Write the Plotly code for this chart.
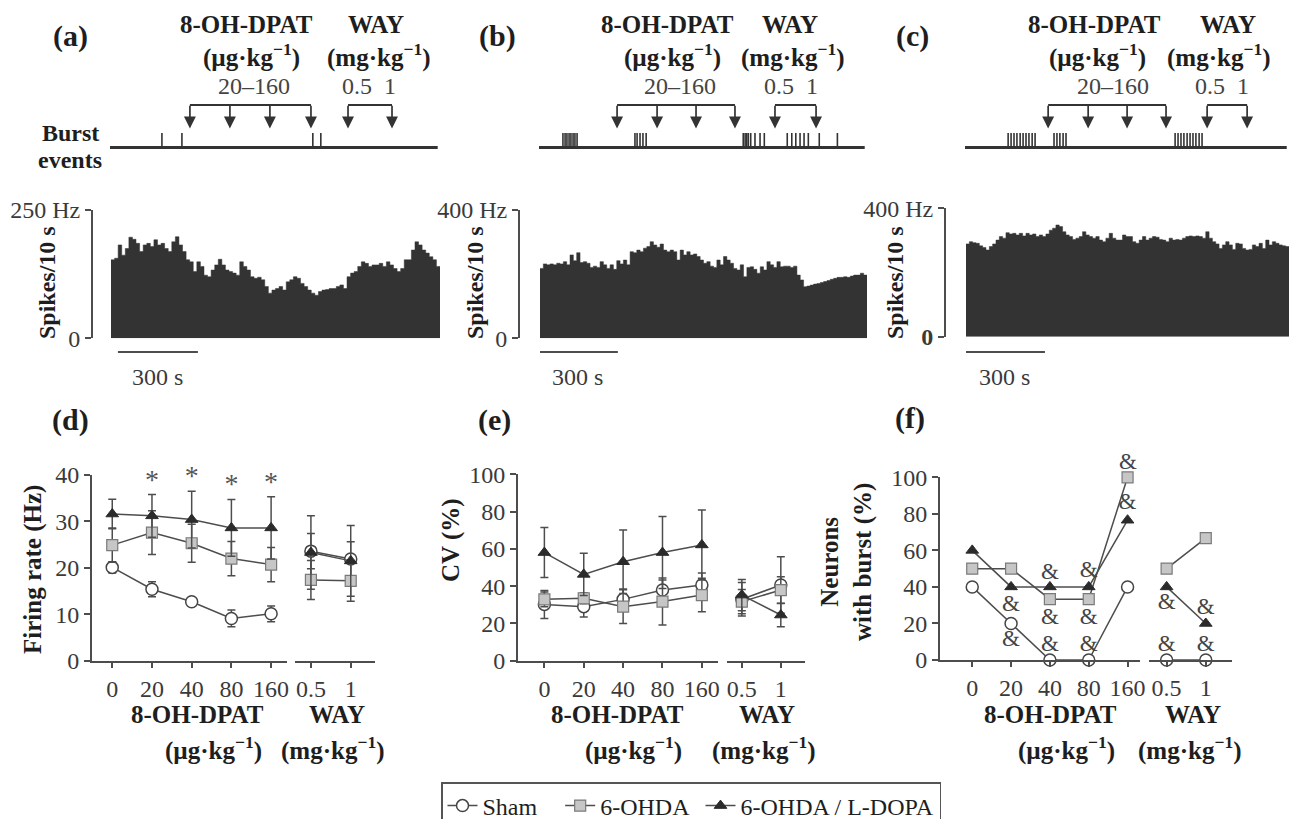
import plotly.graph_objects as go

W, H = 1291, 819
FONT = "Liberation Serif"
TXT = "#1e1e1e"
TICK = "#3a3a3a"
LINE = "#4d4d4d"
BAR = "#333333"

# ---------------- data ----------------
# spike-rate histograms (spikes / bin), panels a, b, c
rate_a = [153, 156, 182, 162, 175, 197, 193, 185, 169, 182, 185, 179, 192, 182, 185, 175, 169, 188, 198, 182,
          169, 153, 149, 130, 149, 140, 123, 120, 133, 143, 154, 143, 133, 130, 127, 123, 149, 140, 133, 120,
          117, 119, 114, 101, 88, 94, 97, 101, 94, 110, 114, 120, 117, 107, 101, 94, 88, 84, 91, 94,
          95, 97, 97, 101, 104, 97, 120, 127, 130, 140, 149, 146, 140, 143, 143, 146, 140, 149, 143, 136,
          130, 136, 153, 153, 172, 188, 182, 172, 166, 159, 153, 140]
rate_b = [218, 232, 229, 232, 229, 234, 232, 239, 229, 260, 242, 267, 236, 239, 234, 221, 225, 221, 239, 229,
          218, 229, 215, 242, 232, 244, 229, 270, 267, 275, 270, 281, 286, 301, 291, 284, 294, 275, 270, 275,
          270, 244, 275, 260, 270, 260, 263, 255, 244, 234, 239, 225, 221, 244, 229, 255, 244, 234, 218, 213,
          229, 192, 221, 223, 215, 203, 223, 213, 239, 229, 221, 239, 223, 225, 225, 221, 225, 197, 182, 161,
          163, 166, 169, 171, 174, 177, 180, 184, 187, 190, 190, 192, 190, 194, 197, 197, 203, 197]
rate_c = [289, 296, 293, 291, 283, 278, 270, 281, 289, 301, 312, 307, 324, 320, 322, 317, 322, 314, 322, 317,
          320, 312, 317, 312, 320, 332, 338, 348, 343, 327, 317, 312, 303, 307, 312, 327, 317, 312, 307, 312,
          301, 296, 307, 322, 307, 301, 301, 317, 312, 312, 296, 291, 301, 312, 301, 307, 312, 310, 303, 301,
          296, 307, 301, 303, 301, 307, 312, 314, 312, 314, 312, 307, 327, 307, 296, 289, 275, 286, 296, 286,
          272, 291, 289, 275, 270, 272, 286, 281, 291, 275, 301, 286, 296, 291, 286, 283, 281]
hist_top = [250, 400, 400]
rec_len_s = [1234, 1226, 1211]

# burst event times (s)
burst_a = [191, 266, 757, 787]
burst_b = [86, 94, 101, 109, 116, 124, 131, 139, 356, 364, 375, 386, 398,
           762, 769, 775, 781, 790, 806, 825, 841, 927, 944, 959, 975, 990, 1006, 1047, 1115]
burst_c = [158, 169, 180, 191, 203, 214, 225, 236, 248, 259, 330, 341, 352, 364, 375,
           784, 795, 806, 817, 829, 840, 851, 862, 874, 885]
# injection times (s)
dpat_inj = [[296, 446, 596, 750], [289, 439, 585, 731], [308, 458, 604, 750]]
way_inj = [[889, 1054], [881, 1035], [904, 1054]]

doses = ["0", "20", "40", "80", "160"]
way_doses = ["0.5", "1"]
groups = ["Sham", "6-OHDA", "6-OHDA / L-DOPA"]

# (d) firing rate (Hz), mean and SEM
fr_dpat = [[20.1, 15.4, 12.7, 9.1, 10.1], [24.9, 27.6, 25.3, 22.0, 20.7], [31.6, 31.2, 30.4, 28.6, 28.6]]
fr_dpat_err = [[1.2, 1.6, 0.8, 1.8, 1.7], [3.7, 4.7, 4.1, 3.7, 3.7], [3.2, 4.6, 6.1, 6.1, 6.7]]
fr_way = [[23.6, 21.9], [17.4, 17.2], [23.3, 21.5]]
fr_way_err = [[3.8, 3.7], [4.2, 4.4], [7.9, 7.6]]
# (e) CV (%)
cv_dpat = [[30.2, 29.0, 32.9, 37.9, 40.6], [32.9, 33.5, 29.0, 31.7, 35.2], [58.0, 46.3, 53.1, 58.0, 62.1]]
cv_dpat_err = [[7.5, 5.5, 5.6, 5.4, 6.5], [4.0, 3.0, 9.0, 12.6, 9.0], [13.4, 11.3, 17.0, 19.3, 18.8]]
cv_way = [[33.0, 40.6], [31.7, 37.9], [35.2, 24.5]]
cv_way_err = [[9.0, 15.2], [6.5, 7.2], [8.4, 6.3]]
# (f) neurons with burst (%)
nb_dpat = [[40, 20, 0, 0, 40], [50, 50, 33.3, 33.3, 100], [60, 40, 40, 40, 76.5]]
nb_way = [[0, 0], [50, 66.7], [40, 20]]

# significance marks
ast_dose = ["20", "40", "80", "160"]
ast_y = [38.6, 39.4, 37.6, 38.1]
amp_dose = ["20", "20", "40", "40", "40", "80", "80", "80", "160", "160"]
amp_y = [30, 11, 47.5, 22.8, 8.2, 48.4, 22.8, 8.2, 108.6, 85.8]
amp_way_dose = ["0.5", "0.5", "1", "1"]
amp_way_y = [31, 8.2, 28.3, 8.2]

# ---------------- helpers ----------------
def X(px):
    return px / W

def Y(py):
    return 1 - py / H

def xr(n):
    return "x" if n == 1 else f"x{n}"

def yr(n):
    return "y" if n == 1 else f"y{n}"

def xk(n):
    return "xaxis" if n == 1 else f"xaxis{n}"

def yk(n):
    return "yaxis" if n == 1 else f"yaxis{n}"

fig = go.Figure()
layout = {}
annotations = []
shapes = []

def text(px, py, s, size=25, bold=True, color=TXT, angle=0, xanchor="center"):
    annotations.append(dict(x=X(px), y=Y(py), xref="paper", yref="paper", text=(f"<b>{s}</b>" if bold else s),
                            showarrow=False, textangle=angle, xanchor=xanchor, yanchor="middle",
                            font=dict(family=FONT, size=size, color=color)))

# ---------------- top panels a, b, c ----------------
top_cfg = [
    dict(hist=(111, 440, 210, 338.3), yaxis_px=92, ylab_x=47, scale0=26,
         letter=("(a)", 70), dpat=246, way=376, ug=251, mg=378, rng=254, wd=369),
    dict(hist=(540, 867, 210, 338.3), yaxis_px=519, ylab_x=475, scale0=-8,
         letter=("(b)", 497), dpat=667, way=790, ug=672, mg=792, rng=680, wd=791),
    dict(hist=(966, 1289, 208.3, 336.7), yaxis_px=945, ylab_x=895, scale0=-4,
         letter=("(c)", 913), dpat=1094, way=1228, ug=1097, mg=1218, rng=1113, wd=1222),
]
rates = [rate_a, rate_b, rate_c]
bursts = [burst_a, burst_b, burst_c]

for i, cfg in enumerate(top_cfg):
    xn, yh, yb = i + 1, 2 * i + 1, 2 * i + 2
    x0, x1, ytop, ybot = cfg["hist"]
    vals = rates[i]
    binw = rec_len_s[i] / len(vals)
    edges = [k * binw for k in range(len(vals) + 1)]
    fig.add_trace(go.Scatter(x=edges, y=vals + [vals[-1]], mode="lines", line=dict(shape="hv", width=0.5, color=BAR),
                             fill="tozeroy", fillcolor=BAR, xaxis=xr(xn), yaxis=yr(yh),
                             showlegend=False, hoverinfo="skip"))
    layout[xk(xn)] = dict(domain=[X(x0), X(x1)], range=[0, rec_len_s[i]], visible=False, anchor=yr(yh))
    top = hist_top[i]
    zero_lbl = "<b>0</b>" if i == 2 else "0"
    layout[yk(yh)] = dict(domain=[Y(ybot), Y(ytop)], range=[0, top], anchor="free", position=X(cfg["yaxis_px"]),
                          showline=True, linecolor=LINE, linewidth=2, ticks="outside", ticklen=6, tickwidth=2,
                          tickcolor=LINE, tickvals=[0, top], ticktext=[zero_lbl, f"{top} Hz"], showgrid=False,
                          zeroline=False, tickfont=dict(family=FONT, size=24, color=TICK))
    # burst strip: shares time axis
    layout[yk(yb)] = dict(domain=[Y(150), Y(100)], range=[0, 1], visible=False, anchor=xr(xn))
    shapes.append(dict(type="line", xref=f"{xr(xn)} domain", yref=yr(yb), x0=-0.003, x1=0.993, y0=0.05, y1=0.05,
                       line=dict(color=BAR, width=3)))
    bx, by = [], []
    for t in bursts[i]:
        bx += [t, t, None]
        by += [0.05, 0.34, None]
    fig.add_trace(go.Scatter(x=bx, y=by, mode="lines", line=dict(color=BAR, width=1.6), xaxis=xr(xn),
                             yaxis=yr(yb), showlegend=False, hoverinfo="skip", cliponaxis=False))
    for inj in (dpat_inj[i], way_inj[i]):
        fig.add_trace(go.Scatter(x=[inj[0], inj[-1]], y=[0.9, 0.9], mode="lines", line=dict(color=BAR, width=1.8),
                                 xaxis=xr(xn), yaxis=yr(yb), showlegend=False, hoverinfo="skip", cliponaxis=False))
        for t in inj:
            annotations.append(dict(x=t, y=0.43, xref=xr(xn), yref=yr(yb), ax=t, ay=0.915, axref=xr(xn),
                                    ayref=yr(yb), text="", showarrow=True, arrowhead=2, arrowsize=1.4,
                                    arrowwidth=1.7, arrowcolor=BAR))
    # scale bar 300 s
    s0 = cfg["scale0"]
    shapes.append(dict(type="line", xref=xr(xn), yref="paper", x0=s0, x1=s0 + 300, y0=Y(352), y1=Y(352),
                       line=dict(color=LINE, width=2)))
    annotations.append(dict(x=s0 + 150, y=Y(377), xref=xr(xn), yref="paper", text="300 s", showarrow=False,
                            font=dict(family=FONT, size=24, color=TICK), yanchor="middle"))
    # texts
    text(cfg["ylab_x"], 283, "Spikes/10 s", size=24, angle=-90)
    lt, lx = cfg["letter"]
    text(lx, 36, lt, size=30)
    text(cfg["dpat"], 24, "8-OH-DPAT")
    text(cfg["way"], 24, "WAY")
    text(cfg["ug"], 56, "(µg·kg<sup>−1</sup>)")
    text(cfg["mg"], 56, "(mg·kg<sup>−1</sup>)")
    text(cfg["rng"], 86, "20–160", size=24, bold=False, color="#444")
    text(cfg["wd"], 86, "0.5\u00a0\u00a01", size=24, bold=False, color="#444")

text(70, 133, "Burst", size=24)
text(70, 160, "events", size=24)

# ---------------- bottom panels d, e, f ----------------
styles = [
    dict(symbol="circle", size=12, color="white", line=dict(color="#444", width=1.5)),
    dict(symbol="square", size=11, color="#c6c6c6", line=dict(color="#7a7a7a", width=1.2)),
    dict(symbol="triangle-up", size=11, color="#2b2b2b", line=dict(color="#2b2b2b", width=1)),
]
legend_pad = ["\u00a0\u00a0\u00a0", "\u00a0", ""]

bot_cfg = [
    dict(left=(92, 287), right=(295, 375), lrange=[-0.51, 4.40], rrange=[-0.40, 1.61], y=(475, 660.7),
         yrange=[0, 40], ticks=[0, 10, 20, 30, 40], data=(fr_dpat, fr_dpat_err, fr_way, fr_way_err)),
    dict(left=(518, 718), right=(727, 805), lrange=[-0.67, 4.41], rrange=[-0.38, 1.62], y=(474.3, 660.7),
         yrange=[0, 100], ticks=[0, 20, 40, 60, 80, 100], data=(cv_dpat, cv_dpat_err, cv_way, cv_way_err)),
    dict(left=(940, 1140), right=(1149, 1232), lrange=[-0.83, 4.32], rrange=[-0.45, 1.67], y=(477.3, 660),
         yrange=[0, 100], ticks=[0, 20, 40, 60, 80, 100], data=(nb_dpat, None, nb_way, None)),
]

for j, cfg in enumerate(bot_cfg):
    xl, xrn = 4 + 2 * j, 5 + 2 * j
    yl, yrr = 7 + 2 * j, 8 + 2 * j
    ax_common = dict(type="category", showline=True, linecolor=LINE, linewidth=2, ticks="outside", ticklen=5,
                     tickwidth=2, tickcolor=LINE, showgrid=False, zeroline=False,
                     tickfont=dict(family=FONT, size=24, color=TICK))
    layout[xk(xl)] = dict(ax_common, domain=[X(cfg["left"][0]), X(cfg["left"][1])], range=cfg["lrange"],
                          anchor=yr(yl), categoryorder="array", categoryarray=doses)
    layout[xk(xrn)] = dict(ax_common, domain=[X(cfg["right"][0]), X(cfg["right"][1])], range=cfg["rrange"],
                           anchor=yr(yrr), categoryorder="array", categoryarray=way_doses)
    ydom = [Y(cfg["y"][1]), Y(cfg["y"][0])]
    layout[yk(yl)] = dict(domain=ydom, range=cfg["yrange"], anchor=xr(xl), showline=True, linecolor=LINE,
                          linewidth=2, ticks="outside", ticklen=6, tickwidth=2, tickcolor=LINE,
                          tickvals=cfg["ticks"], showgrid=False, zeroline=False,
                          tickfont=dict(family=FONT, size=24, color=TICK))
    layout[yk(yrr)] = dict(domain=ydom, range=cfg["yrange"], anchor=xr(xrn), visible=False)
    mdose, merr, mway, mwerr = cfg["data"]
    for g in range(3):
        ekw = {}
        if merr is not None:
            ekw["error_y"] = dict(type="data", array=merr[g], visible=True, color=LINE, thickness=1.5, width=4)
        fig.add_trace(go.Scatter(x=doses, y=mdose[g], mode="lines+markers", name=groups[g] + legend_pad[g],
                                 line=dict(color=LINE, width=1.5), marker=styles[g], xaxis=xr(xl), yaxis=yr(yl),
                                 showlegend=(j == 0), legendrank=g + 1, cliponaxis=False, **ekw))
        ekw = {}
        if mwerr is not None:
            ekw["error_y"] = dict(type="data", array=mwerr[g], visible=True, color=LINE, thickness=1.5, width=4)
        fig.add_trace(go.Scatter(x=way_doses, y=mway[g], mode="lines+markers", name=groups[g],
                                 line=dict(color=LINE, width=1.5), marker=styles[g], xaxis=xr(xrn),
                                 yaxis=yr(yrr), showlegend=False, cliponaxis=False, **ekw))

# asterisks (d)
fig.add_trace(go.Scatter(x=ast_dose, y=ast_y, mode="text", text=["*"] * len(ast_dose), xaxis="x4", yaxis="y7",
                         textfont=dict(family=FONT, size=28, color="#555"), showlegend=False, cliponaxis=False,
                         hoverinfo="skip"))
# ampersands (f): inside the axis range as text traces, above it as domain-referenced annotations
f_top = bot_cfg[2]["yrange"][1]
in_x = [d for d, v in zip(amp_dose, amp_y) if v <= f_top]
in_y = [v for v in amp_y if v <= f_top]
fig.add_trace(go.Scatter(x=in_x, y=in_y, mode="text", text=["&"] * len(in_x), xaxis="x8", yaxis="y11",
                         textfont=dict(family=FONT, size=23, color="#444"), showlegend=False, cliponaxis=False,
                         hoverinfo="skip"))
for d, v in zip(amp_dose, amp_y):
    if v > f_top:
        annotations.append(dict(x=doses.index(d), y=v / f_top, xref="x8", yref="y11 domain", text="&",
                                showarrow=False, yanchor="middle", font=dict(family=FONT, size=23, color="#444")))
fig.add_trace(go.Scatter(x=amp_way_dose, y=amp_way_y, mode="text", text=["&"] * len(amp_way_dose), xaxis="x9",
                         yaxis="y12", textfont=dict(family=FONT, size=23, color="#444"), showlegend=False,
                         cliponaxis=False, hoverinfo="skip"))

# bottom panel texts
text(70, 420, "(d)", size=30)
text(494, 420, "(e)", size=30)
text(910, 418, "(f)", size=30)
text(33, 570, "Firing rate (Hz)", size=25, angle=-90)
text(451, 540, "CV (%)", size=25, angle=-90)
text(846, 562, "Neurons<br>with burst (%)", size=25, angle=-90)
for dx, wx in ((197, 337), (617, 767), (1050, 1193)):
    text(dx, 714, "8-OH-DPAT")
    text(dx + 16, 748, "(µg·kg<sup>−1</sup>)")
    text(wx, 714, "WAY")
    text(wx - 4, 748, "(mg·kg<sup>−1</sup>)")

fig.update_layout(
    width=W, height=H, margin=dict(l=0, r=0, t=0, b=0, autoexpand=False),
    paper_bgcolor="white", plot_bgcolor="white",
    annotations=annotations, shapes=shapes,
    legend=dict(orientation="h", x=X(441), xanchor="left", y=Y(782), yanchor="top", bgcolor="white",
                bordercolor="#555", borderwidth=1.5, font=dict(family=FONT, size=24, color=TXT),
                itemwidth=30, traceorder="normal"),
    **layout,
)
fig.write_html("out.html", config={"displayModeBar": False},
               post_script="document.body.style.margin='0px';document.body.style.overflow='hidden';")
